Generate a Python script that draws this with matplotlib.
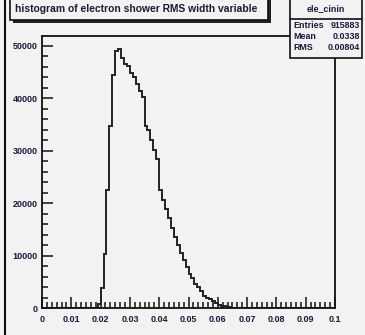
import matplotlib
matplotlib.use("Agg")
import matplotlib.pyplot as plt
from matplotlib.ticker import MultipleLocator, AutoMinorLocator
from matplotlib.patches import Rectangle
from matplotlib.lines import Line2D

# histogram contents, 100 bins of 0.001 from 0 to 0.1 (only non-empty stretch listed)
first_bin = 0.019
bin_width = 0.001
counts = [670, 3750, 10250, 22580, 34790, 44500, 49080, 49420, 47750, 46500,
          46170, 44750, 44000, 42830, 41420, 40170, 34790, 34000, 32080, 30170,
          28460, 22580, 20670, 18960, 17080, 15250, 13580, 12000, 10420, 9125,
          7830, 6580, 5670, 4670, 4080, 3290, 2330, 1960, 1670, 1330,
          1000, 580, 375, 330, 250]

title = "histogram of electron shower RMS width variable"
stat_name = "ele_cinin"
stat_rows = [("Entries", "915883"), ("Mean", "0.0338"), ("RMS", "0.00804")]

plt.rcParams['font.family'] = ['Liberation Sans', 'DejaVu Sans']

W, H = 365, 335
fig = plt.figure(figsize=(W / 100, H / 100), dpi=100, facecolor='#f2f2f2')

def px(x, y):
    # pixel coords (from top-left) to figure fraction
    return x / W, 1 - y / H

x0, y0 = px(42, 308)
x1, y1 = px(335, 36)
ax = fig.add_axes([x0, y0, x1 - x0, y1 - y0])
ax.set_facecolor('#f2f2f2')

# build the step outline from bins (empty bins -> 0 on the full range)
edges = [first_bin + i * bin_width for i in range(len(counts) + 1)]
xs = [0.0, edges[0]]
ys = [0, 0]
for i, c in enumerate(counts):
    xs += [edges[i], edges[i + 1]]
    ys += [c, c]
xs += [edges[-1], 0.1]
ys += [0, 0]
ax.plot(xs, ys, color='#222222', lw=1.4, solid_joinstyle='miter')

ax.set_xlim(0, 0.1)
ax.set_ylim(0, 51900)
ax.xaxis.set_minor_locator(AutoMinorLocator(6))
ax.yaxis.set_minor_locator(AutoMinorLocator(5))
ax.set_xticks([i * 0.01 for i in range(11)])
ax.set_xticklabels(['0', '0.01', '0.02', '0.03', '0.04', '0.05', '0.06',
                    '0.07', '0.08', '0.09', '0.1'])
ax.set_yticks([0, 10000, 20000, 30000, 40000, 50000])
ax.set_yticklabels(['0', '10000', '20000', '30000', '40000', '50000'])
ax.xaxis.set_minor_locator(AutoMinorLocator(6))
ax.yaxis.set_minor_locator(AutoMinorLocator(5))
ax.tick_params(which='both', direction='in', color='#111111', width=1.1,
               labelsize=6.5, labelcolor='#1a1a40')
ax.tick_params(which='major', length=8, pad=3)
ax.tick_params(which='minor', length=4)
ax.tick_params(axis='x', pad=5)
for lab in ax.get_xticklabels() + ax.get_yticklabels():
    lab.set_fontweight('bold')
for s in ax.spines.values():
    s.set_linewidth(1.3)
    s.set_color('#111111')

# left frame line of the canvas
fig.add_artist(Line2D([5 / W, 5 / W], [0, 1], color='#111111', lw=1.5))

# title box with shadow
bx0, by0 = px(10, 20)
bx1, by1 = px(268, -5)
fig.add_artist(Rectangle((bx0 + 2.5 / W, by0 - 2.5 / H), bx1 - bx0, by1 - by0,
                         facecolor='#222222', edgecolor='none'))
fig.add_artist(Rectangle((bx0, by0), bx1 - bx0, by1 - by0,
                         facecolor='#f2f2f2', edgecolor='#111111', lw=1.2))
tx, ty = px(136, 9)
fig.text(tx, ty, title, ha='center', va='center', fontsize=7.4,
         fontweight='bold', color='#1a1a30')

# stats box
sx0, sy0 = px(290, 58)
sx1, sy1 = px(362, -5)
fig.add_artist(Rectangle((sx0, sy0), sx1 - sx0, sy1 - sy0,
                         facecolor='#f2f2f2', edgecolor='#111111', lw=1.2))
lx0, ly = px(290, 19)
lx1, _ = px(362, 19)
fig.add_artist(Line2D([lx0, lx1], [ly, ly], color='#111111', lw=1.2))
nx, ny = px(326, 9)
fig.text(nx, ny, stat_name, ha='center', va='center', fontsize=6.4,
         fontweight='bold', color='#1a1a40')
for k, (name, val) in enumerate(stat_rows):
    ax_, ay_ = px(293, 25 + 11.5 * k)
    vx_, _ = px(360, 25 + 11.5 * k)
    fig.text(ax_, ay_, name, ha='left', va='center', fontsize=6.4,
             fontweight='bold', color='#1a1a40')
    fig.text(vx_, ay_, val, ha='right', va='center', fontsize=6.4,
             fontweight='bold', color='#1a1a40')

fig.savefig('out.png', dpi=100, facecolor=fig.get_facecolor())
